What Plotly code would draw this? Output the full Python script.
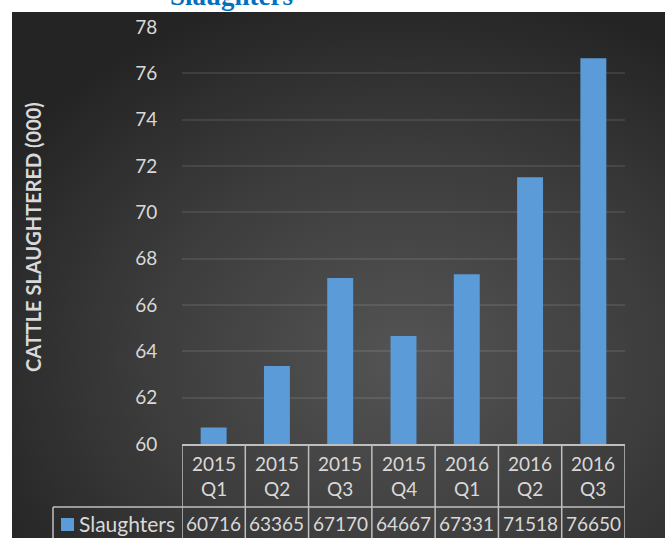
import base64
import plotly.graph_objects as go

# ---- data ----
categories = ["2015 Q1", "2015 Q2", "2015 Q3", "2015 Q4", "2016 Q1", "2016 Q2", "2016 Q3"]
cat_years = ["2015", "2015", "2015", "2015", "2016", "2016", "2016"]
cat_quarters = ["Q1", "Q2", "Q3", "Q4", "Q1", "Q2", "Q3"]
slaughters = [60716, 63365, 67170, 64667, 67331, 71518, 76650]
series_name = "Slaughters"
y_title = "CATTLE SLAUGHTERED (000)"
y_ticks = [60, 62, 64, 66, 68, 70, 72, 74, 76, 78]

bar_vals = [v / 1000 for v in slaughters]

# ---- layout geometry (pixels) ----
WIDTH, HEIGHT = 665, 538
L, R, T, B = 182, 625, 27, 444
PW, PH = R - L, B - T


def px(x):
    return (x - L) / PW


def py(y):
    return (B - y) / PH


TXT = "#d9d9d9"
LINE = "#bfbfbf"
FONT = "Lato"
BAR = "#5b9bd8"

svg = (
    "<svg xmlns='http://www.w3.org/2000/svg' width='653' height='526' preserveAspectRatio='none'>"
    "<defs><radialGradient id='g' cx='0.6' cy='0.66' r='0.72'>"
    "<stop offset='0' stop-color='#545454'/><stop offset='0.55' stop-color='#3c3c3c'/>"
    "<stop offset='1' stop-color='#242424'/></radialGradient></defs>"
    "<rect width='653' height='526' fill='url(#g)'/></svg>"
)
bg_src = "data:image/svg+xml;base64," + base64.b64encode(svg.encode()).decode()

fig = go.Figure()
fig.add_trace(go.Bar(
    x=list(range(len(categories))),
    y=bar_vals,
    name=series_name,
    width=0.41,
    marker=dict(color=BAR, line=dict(width=0)),
    hoverinfo="skip",
    showlegend=False,
))

shapes = []
# table vertical lines at category boundaries
for i in range(len(categories) + 1):
    shapes.append(dict(type="line", xref="x", yref="paper", x0=i - 0.5, x1=i - 0.5,
                       y0=py(B), y1=py(545), line=dict(color=LINE, width=1.5)))
# row separator
shapes.append(dict(type="line", xref="paper", yref="paper", x0=px(53), x1=px(R),
                   y0=py(507), y1=py(507), line=dict(color=LINE, width=1.5)))
# legend cell left border
shapes.append(dict(type="line", xref="paper", yref="paper", x0=px(53), x1=px(53),
                   y0=py(507), y1=py(545), line=dict(color=LINE, width=1.5)))
# legend key
shapes.append(dict(type="rect", xref="paper", yref="paper", x0=px(61), x1=px(74),
                   y0=py(531), y1=py(518), line=dict(width=0), fillcolor=BAR))

annotations = []
for i, (yr, q) in enumerate(zip(cat_years, cat_quarters)):
    annotations.append(dict(x=i, xref="x", y=py(476), yref="paper", text=f"{yr}<br>{q}",
                            showarrow=False, font=dict(family=FONT, size=19, color=TXT),
                            xanchor="center", yanchor="middle"))
    annotations.append(dict(x=i, xref="x", y=py(523), yref="paper", text=str(slaughters[i]),
                            showarrow=False, font=dict(family=FONT, size=19, color=TXT),
                            xanchor="center", yanchor="middle"))
annotations.append(dict(x=px(77), xref="paper", y=py(523), yref="paper", text=series_name,
                        showarrow=False, font=dict(family=FONT, size=21, color=TXT),
                        xanchor="left", yanchor="middle"))
annotations.append(dict(x=px(33), xref="paper", y=py(237), yref="paper", text=f"<b>{y_title}</b>",
                        showarrow=False, textangle=-90,
                        font=dict(family=FONT, size=20, color=TXT),
                        xanchor="center", yanchor="middle"))
annotations.append(dict(x=px(231), xref="paper", y=py(-4), yref="paper", text="<b>Slaughters</b>",
                        showarrow=False, font=dict(family="Liberation Serif", size=27, color="#0070C0"),
                        xanchor="center", yanchor="middle"))

fig.update_layout(
    width=WIDTH, height=HEIGHT,
    margin=dict(l=L, r=WIDTH - R, t=T, b=HEIGHT - B, autoexpand=False),
    paper_bgcolor="white",
    plot_bgcolor="rgba(0,0,0,0)",
    bargap=0.59,
    shapes=shapes,
    annotations=annotations,
    images=[dict(source=bg_src, xref="paper", yref="paper", x=px(12), y=py(12),
                 sizex=(WIDTH - 12) / PW, sizey=(HEIGHT - 12) / PH,
                 xanchor="left", yanchor="top", sizing="stretch", layer="below")],
    xaxis=dict(range=[-0.5, len(categories) - 0.5], showticklabels=False, showgrid=False,
               zeroline=False, showline=True, linecolor=LINE, linewidth=2, ticks=""),
    yaxis=dict(range=[60, 78], tickvals=y_ticks, showgrid=True,
               gridcolor="rgba(255,255,255,0.09)", gridwidth=1.5, zeroline=False,
               showline=False, ticks="outside", ticklen=20, tickcolor="rgba(0,0,0,0)",
               tickfont=dict(family=FONT, size=19, color=TXT)),
    font=dict(family=FONT),
)

fig.write_html("out.html", config={"displayModeBar": False},
               post_script="document.body.style.margin='0';")
